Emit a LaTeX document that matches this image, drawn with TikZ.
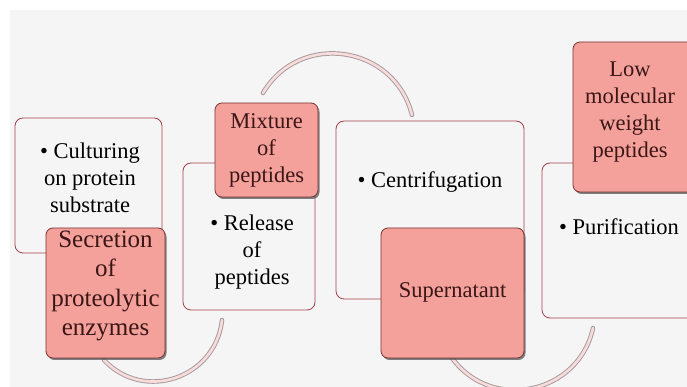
\documentclass[tikz,border=0pt]{standalone}
\usepackage{fontspec}
\setmainfont{Liberation Serif}
\newfontfamily\tnr{Liberation Serif}
\usetikzlibrary{shadows}
\definecolor{bgc}{HTML}{F5F5F5}
\definecolor{pinkc}{HTML}{F4A19B}
\definecolor{pinkbd}{HTML}{7A3434}
\definecolor{whbd}{HTML}{A3404A}
\definecolor{arcout}{HTML}{A89A9C}
\definecolor{arcin}{HTML}{F8DCDC}
\definecolor{pinktxt}{HTML}{3A1616}
\begin{document}
\begin{tikzpicture}[x=1pt,y=1pt,
 whitebox/.style={draw=whbd, line width=0.8pt, fill=bgc, rounded corners=8pt, inner sep=0pt},
 pinkbox/.style={draw=pinkbd, line width=0.8pt, fill=pinkc, rounded corners=7pt, inner sep=0pt,
   drop shadow={shadow xshift=1.5pt, shadow yshift=-2pt, opacity=0.7, fill=black!70}},
 txt/.style={font=\tnr\fontsize{22.5}{27}\selectfont, align=center, text=black, inner sep=0pt},
 ptxt/.style={txt, text=pinktxt},
 arcline/.style={draw=arcout, line width=4.5pt, line cap=round,
   postaction={draw=arcin, line width=2.6pt, line cap=round}}]
\useasboundingbox (0,0) rectangle (687,387);
\clip (0,0) rectangle (687,387);
\fill[white] (0,0) rectangle (687,387);
\fill[bgc] (10,0) rectangle (687,377);

% arc end points
\coordinate (a1s) at (104,27);
\coordinate (a1e) at (222,67);
\coordinate (a2s) at (263,294);
\coordinate (a2e) at (412,272);
\coordinate (a3s) at (452,29);
\coordinate (a3e) at (593,59);

\draw[arcline] (a1s) to[out=-47,in=-96,looseness=1.2] (a1e);
\draw[arcline] (a2s) to[out=59.5,in=104,looseness=1.23] (a2e);
\draw[arcline] (a3s) to[out=-54,in=-102,looseness=1.2] (a3e);

% step 1
\node[whitebox, minimum width=147pt, minimum height=135pt] (b1) at (88.5,201.5) {};
\node[txt] (t1) at (90,209) {• Culturing\\on protein\\substrate};
\node[pinkbox, minimum width=119pt, minimum height=130pt] (p1) at (105.5,94) {};
\node[ptxt, font=\tnr\fontsize{25}{29.5}\selectfont] (q1) at (105.5,101) {Secretion\\of\\proteolytic\\enzymes};

% step 2
\node[whitebox, minimum width=132pt, minimum height=147pt] (b2) at (249,150.5) {};
\node[txt] (t2) at (252,135) {• Release\\of\\peptides};
\node[pinkbox, minimum width=103pt, minimum height=94pt] (p2) at (266.5,237) {};
\node[ptxt] (q2) at (266.5,237) {Mixture\\of\\peptides};

% step 3
\node[whitebox, minimum width=188pt, minimum height=178pt] (b3) at (430,177) {};
\node[txt] (t3) at (430,205) {• Centrifugation};
\node[pinkbox, minimum width=143pt, minimum height=130pt] (p3) at (452.5,94) {};
\node[ptxt] (q3) at (452.5,95) {Supernatant};

% step 4
\node[whitebox, minimum width=163pt, minimum height=155pt] (b4) at (623.5,146.5) {};
\node[txt] (t4) at (619,160) {• Purification};
\node[pinkbox, minimum width=127pt, minimum height=150pt] (p4) at (636.5,270) {};
\node[ptxt] (q4) at (630,275) {Low\\molecular\\weight\\peptides};
\end{tikzpicture}
\end{document}
